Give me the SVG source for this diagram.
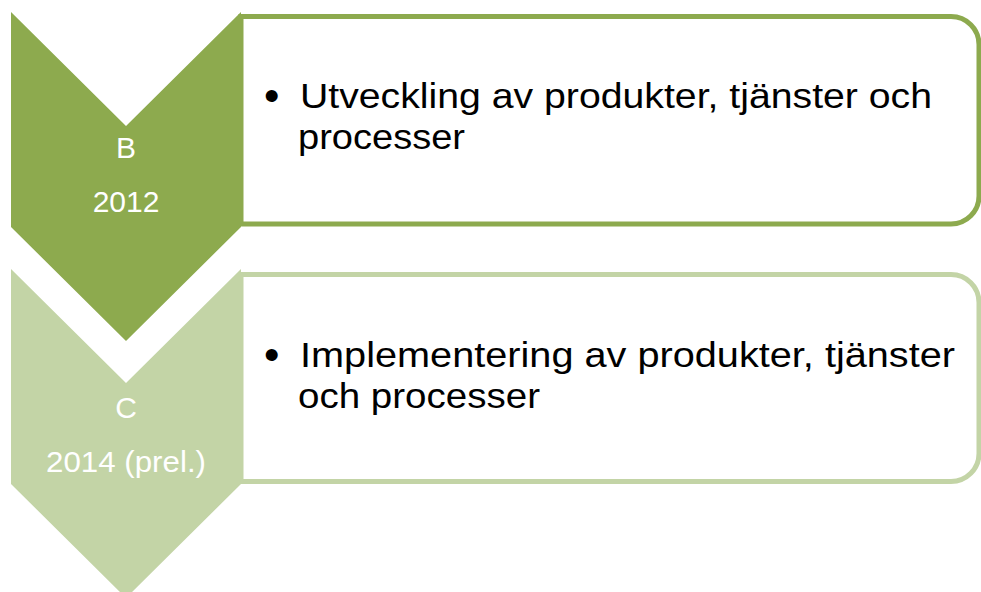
<svg xmlns="http://www.w3.org/2000/svg" width="981" height="592" viewBox="0 0 981 592">
<style>
.box{fill:#fff;stroke-width:5}
.b1{stroke:#8DAA4E}
.b2{stroke:#C3D4A6}
.c1{fill:#8DAA4E}
.c2{fill:#C3D4A6}
.lab{font-family:"Liberation Sans",Arial,sans-serif;font-size:30px;fill:#fff;text-anchor:middle}
.txt{font-family:"Liberation Sans",Arial,sans-serif;font-size:35px;fill:#000}
.bul{font-size:44px}
</style>
<rect width="981" height="592" fill="#fff"/>
<g id="box1">
<path class="box b1" d="M241,16.5 H951 A28,28 0 0 1 979,44.5 V196 A28,28 0 0 1 951,224 H241 Z"/>
<text class="txt"><tspan class="bul" x="264" y="111">•</tspan><tspan x="300" y="108" textLength="632" lengthAdjust="spacingAndGlyphs">Utveckling av produkter, tjänster och</tspan></text>
<text class="txt" x="298" y="149" textLength="167" lengthAdjust="spacingAndGlyphs">processer</text>
</g>
<g id="box2">
<path class="box b2" d="M241,274.5 H951 A28,28 0 0 1 979,302.5 V453.5 A28,28 0 0 1 951,481.5 H241 Z"/>
<text class="txt"><tspan class="bul" x="264" y="370">•</tspan><tspan x="300" y="367" textLength="655" lengthAdjust="spacingAndGlyphs">Implementering av produkter, tjänster</tspan></text>
<text class="txt" x="298" y="408" textLength="242" lengthAdjust="spacingAndGlyphs">och processer</text>
</g>
<g id="chevron1">
<polygon class="c1" points="11,12 126,126 241,12 241,227 126,341 11,227"/>
<text class="lab" x="126" y="158">B</text>
<text class="lab" x="126" y="212">2012</text>
</g>
<g id="chevron2">
<polygon class="c2" points="11,269 126,383 241,269 241,484 126,598 11,484"/>
<text class="lab" x="126" y="418">C</text>
<text class="lab" x="126" y="472" textLength="160" lengthAdjust="spacingAndGlyphs">2014 (prel.)</text>
</g>
<g id="connectors"></g>
</svg>
